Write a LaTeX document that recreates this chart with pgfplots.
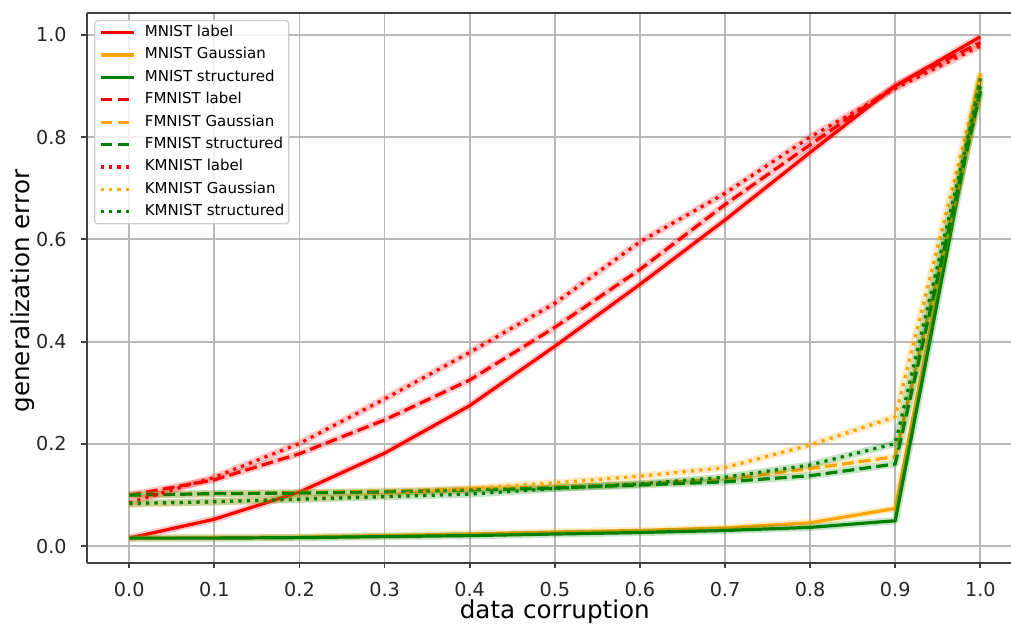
\documentclass[border=0pt]{standalone}
\usepackage{fontspec}
\setmainfont{DejaVu Sans}
\usepackage{pgfplots}
\usepackage{pgfplotstable}
\pgfplotsset{compat=1.18}

\definecolor{mred}{HTML}{FF0000}
\definecolor{morange}{HTML}{FFA500}
\definecolor{mgreen}{HTML}{008000}

\pgfplotstableread{
x   label gauss struct
0.0 0.016 0.016 0.016
0.1 0.053 0.017 0.016
0.2 0.106 0.018 0.017
0.3 0.182 0.021 0.019
0.4 0.275 0.024 0.021
0.5 0.391 0.028 0.024
0.6 0.512 0.031 0.027
0.7 0.638 0.036 0.031
0.8 0.770 0.046 0.037
0.9 0.900 0.074 0.050
1.0 0.996 0.925 0.915
}\mnist

\pgfplotstableread{
x   label gauss struct
0.0 0.100 0.100 0.100
0.1 0.130 0.103 0.103
0.2 0.181 0.105 0.104
0.3 0.247 0.108 0.106
0.4 0.325 0.112 0.110
0.5 0.428 0.116 0.114
0.6 0.541 0.122 0.120
0.7 0.668 0.131 0.126
0.8 0.785 0.152 0.138
0.9 0.900 0.175 0.161
1.0 0.985 0.885 0.890
}\fmnist

\pgfplotstableread{
x   label gauss struct
0.0 0.085 0.082 0.084
0.1 0.135 0.087 0.087
0.2 0.201 0.093 0.092
0.3 0.288 0.100 0.097
0.4 0.379 0.113 0.102
0.5 0.475 0.124 0.113
0.6 0.595 0.137 0.122
0.7 0.690 0.154 0.135
0.8 0.800 0.198 0.159
0.9 0.895 0.253 0.201
1.0 0.978 0.920 0.900
}\kmnist

\pgfplotsset{
  halo/.style={forget plot, draw=#1, opacity=0.22, line width=3.6pt, line join=round},
  sline/.style={draw=#1, line width=1.6pt, line join=round},
  dline/.style={draw=#1, line width=1.6pt, line join=round, dash pattern=on 5.9pt off 2.6pt},
  oline/.style={draw=#1, line width=1.6pt, line join=round, dash pattern=on 1.6pt off 2.6pt},
}

\begin{document}
\begin{tikzpicture}
\begin{axis}[
  scale only axis,
  width=462.15pt, height=275pt,
  xmin=-0.05, xmax=1.036,
  ymin=-0.0326, ymax=1.0425,
  axis y line*=left,
  y axis line style={-},
  axis line style={black!75, line width=1pt},
  tick pos=left,
  tick align=outside,
  major tick length=2.6pt,
  tick style={black!75, line width=0.9pt},
  xtick={0,0.1,0.2,0.3,0.4,0.5,0.6,0.7,0.8,0.9,1.0},
  ytick={0,0.2,0.4,0.6,0.8,1.0},
  /pgf/number format/.cd, fixed, fixed zerofill, precision=1, assume math mode=true,
  /pgfplots/.cd,
  grid=major,
  major grid style={gray!55, line width=0.9pt},
  tick label style={font=\fontsize{9.6}{11}\selectfont, text=black!85, inner sep=0pt},
  yticklabel style={anchor=east, xshift=-7.2pt},
  xticklabel style={anchor=north, yshift=-6.8pt},
  xlabel={data corruption},
  ylabel={generalization error},
  label style={font=\fontsize{12.3}{14}\selectfont, inner sep=0pt},
  xlabel style={at={(axis description cs:0.5064,0)}, anchor=base, yshift=-27.65pt},
  ylabel style={at={(axis description cs:0,0.4945)}, anchor=base, yshift=28.35pt},
  legend image code/.code={\draw[#1] (0pt,0pt) -- (16.7pt,0pt);},
  legend cell align=left,
  legend style={
    at={(axis description cs:0,1)}, anchor=north west,
    xshift=3.7pt, yshift=-3.5pt,
    draw=black!20, line width=0.6pt, rounded corners=1.5pt,
    fill=white, fill opacity=0.8, draw opacity=1, text opacity=1,
    font=\fontsize{7.5}{9}\selectfont,
    inner xsep=2.2pt, inner ysep=2.2pt,
    row sep=3.6pt, column sep=0pt,
    nodes={inner sep=0pt, text height=5.8pt, text depth=1.8pt},
  },
  legend style={/tikz/every odd column/.append style={column sep=4.6pt}},
  clip=true,
]
\coordinate (bl) at (rel axis cs:0,0);
\coordinate (tr) at (rel axis cs:1,1);

\addplot[halo=mred] table[x=x,y=label]{\mnist};
\addplot[sline=mred] table[x=x,y=label]{\mnist};
\addlegendentry{MNIST label}
\addplot[halo=morange] table[x=x,y=gauss]{\mnist};
\addplot[sline=morange] table[x=x,y=gauss]{\mnist};
\addlegendentry{MNIST Gaussian}
\addplot[halo=mgreen] table[x=x,y=struct]{\mnist};
\addplot[sline=mgreen] table[x=x,y=struct]{\mnist};
\addlegendentry{MNIST structured}

\addplot[halo=mred] table[x=x,y=label]{\fmnist};
\addplot[dline=mred] table[x=x,y=label]{\fmnist};
\addlegendentry{FMNIST label}
\addplot[halo=morange] table[x=x,y=gauss]{\fmnist};
\addplot[dline=morange] table[x=x,y=gauss]{\fmnist};
\addlegendentry{FMNIST Gaussian}
\addplot[halo=mgreen] table[x=x,y=struct]{\fmnist};
\addplot[dline=mgreen] table[x=x,y=struct]{\fmnist};
\addlegendentry{FMNIST structured}

\addplot[halo=mred] table[x=x,y=label]{\kmnist};
\addplot[oline=mred] table[x=x,y=label]{\kmnist};
\addlegendentry{KMNIST label}
\addplot[halo=morange] table[x=x,y=gauss]{\kmnist};
\addplot[oline=morange] table[x=x,y=gauss]{\kmnist};
\addlegendentry{KMNIST Gaussian}
\addplot[halo=mgreen] table[x=x,y=struct]{\kmnist};
\addplot[oline=mgreen] table[x=x,y=struct]{\kmnist};
\addlegendentry{KMNIST structured}
\end{axis}
\pgfresetboundingbox
\path ([xshift=-43.35pt,yshift=-30.5pt]bl) rectangle ([yshift=6.5pt]tr);
\end{tikzpicture}
\end{document}
